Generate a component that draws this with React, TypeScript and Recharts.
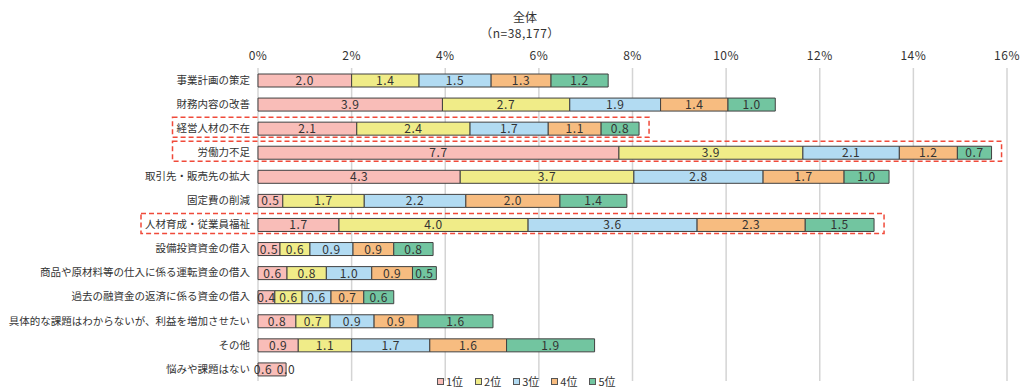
import { BarChart, Bar, XAxis, YAxis, CartesianGrid, LabelList } from 'recharts'

const categories = [
  '事業計画の策定',
  '財務内容の改善',
  '経営人材の不在',
  '労働力不足',
  '取引先・販売先の拡大',
  '固定費の削減',
  '人材育成・従業員福祉',
  '設備投資資金の借入',
  '商品や原材料等の仕入に係る運転資金の借入',
  '過去の融資金の返済に係る資金の借入',
  '具体的な課題はわからないが、利益を増加させたい',
  'その他',
  '悩みや課題はない',
]

// values; labels show them rounded to 0.1
const rank1 = [2.0, 3.94, 2.11, 7.71, 4.32, 0.53, 1.73, 0.47, 0.62, 0.36, 0.81, 0.86, 0.6]
const rank2 = [1.44, 2.72, 2.42, 3.93, 3.71, 1.74, 4.04, 0.64, 0.84, 0.58, 0.73, 1.14, 0.0]
const rank3 = [1.54, 1.94, 1.67, 2.06, 2.76, 2.17, 3.61, 0.92, 0.97, 0.62, 0.94, 1.67, null]
const rank4 = [1.28, 1.44, 1.13, 1.24, 1.73, 2.01, 2.31, 0.87, 0.87, 0.7, 0.94, 1.64, null]
const rank5 = [1.22, 1.01, 0.81, 0.73, 0.96, 1.43, 1.47, 0.84, 0.51, 0.64, 1.6, 1.88, null]

const seriesNames = ['1位', '2位', '3位', '4位', '5位']
const xTicks = [0, 2, 4, 6, 8, 10, 12, 14, 16]

// rows outlined with a red dashed box
const highlighted = ['経営人材の不在', '労働力不足', '人材育成・従業員福祉']

const COLORS = ['#f9bdb8', '#f0ec88', '#b2dbf2', '#f7bc80', '#72c5a0']
const FONT = '"Noto Sans CJK JP", "Noto Sans", sans-serif'

const W = 1026
const H = 389
const M = { top: 48, right: 19, bottom: 8, left: 0 }
const X_AXIS_H = 20
const Y_AXIS_W = 258

const series = [rank1, rank2, rank3, rank4, rank5]
const data = categories.map((name, i) => {
  const row: Record<string, string | number | null> = { name }
  series.forEach((s, k) => {
    row[`r${k + 1}`] = s[i]
  })
  return row
})

const valueText = (x: number, y: number, v: number, key?: string) => (
  <text
    key={key}
    x={x}
    y={y + 4.5}
    textAnchor='middle'
    fontSize={12}
    fill='#333'
    letterSpacing={0.6}
    fontFamily={FONT}
  >
    {v.toFixed(1)}
  </text>
)

const makeLabel = (k: number) => (props: any) => {
  const { x, y, width, height, value, index } = props
  if (value === null || value === undefined) return null
  const cx = Number(x) + Number(width) / 2
  const cy = Number(y) + Number(height) / 2
  // a zero-width next segment gets no bar, so its label is drawn here
  const next = series[k + 1]?.[index]
  if (next === 0) {
    const end = Number(x) + Number(width)
    return (
      <g>
        {valueText(cx - 9, cy, Number(value), 'a')}
        {valueText(end, cy, 0, 'b')}
      </g>
    )
  }
  return valueText(cx, cy, Number(value))
}

function Highlights() {
  const plotLeft = Y_AXIS_W + M.left
  const plotTop = M.top + X_AXIS_H
  const plotW = W - M.right - plotLeft
  const plotH = H - M.bottom - plotTop
  const band = plotH / categories.length
  const pxPerPct = plotW / 16
  const fontPx = 10.5
  const boxes = highlighted.map((name) => {
    const i = categories.indexOf(name)
    const total = series.reduce((acc, s) => acc + (s[i] ?? 0), 0)
    const labelLeft = plotLeft - 8 - name.length * fontPx
    return {
      name,
      x1: labelLeft - 4,
      x2: plotLeft + total * pxPerPct + 10,
      cy: plotTop + band * (i + 0.5) - 1,
    }
  })
  // first two boxes share their left edge
  boxes[0].x1 = boxes[1].x1 = Math.min(boxes[0].x1, boxes[1].x1)
  return (
    <svg
      width={W}
      height={H}
      style={{ position: 'absolute', left: 0, top: 0, pointerEvents: 'none' }}
    >
      {boxes.map((b) => (
        <rect
          key={b.name}
          x={b.x1}
          y={b.cy - 10}
          width={b.x2 - b.x1}
          height={20}
          fill='none'
          stroke='#f04a3a'
          strokeWidth={1.5}
          strokeDasharray='5 3'
        />
      ))}
    </svg>
  )
}

export default function App() {
  return (
    <div
      style={{
        position: 'absolute',
        left: 0,
        top: 0,
        width: W,
        height: H,
        background: '#fff',
        fontFamily: FONT,
        overflow: 'hidden',
      }}
    >
      <div
        style={{
          position: 'absolute',
          left: 0,
          width: W,
          top: 9,
          textAlign: 'center',
          fontSize: 12,
          lineHeight: '16px',
          color: '#333',
          paddingLeft: 24,
          boxSizing: 'border-box',
        }}
      >
        <div>全体</div>
        <div style={{ marginLeft: -10, letterSpacing: 0.5 }}>（n=38,177）</div>
      </div>
      <BarChart
        width={W}
        height={H}
        data={data}
        layout='vertical'
        margin={M}
        barSize={13}
        style={{ position: 'absolute', left: 0, top: 0 }}
      >
        <CartesianGrid horizontal={false} stroke='#d4d4d4' strokeWidth={1.5} />
        <XAxis
          type='number'
          orientation='top'
          domain={[0, 16]}
          ticks={xTicks}
          tickFormatter={(v) => `${v}%`}
          height={X_AXIS_H}
          axisLine={false}
          tickLine={false}
          tickSize={0}
          tickMargin={8}
          tick={{ fontSize: 12, fill: '#333', fontFamily: FONT, letterSpacing: 0.5 }}
          interval={0}
        />
        <YAxis
          type='category'
          dataKey='name'
          width={Y_AXIS_W}
          axisLine={false}
          tickLine={false}
          tickSize={0}
          tickMargin={8}
          interval={0}
          tick={{ fontSize: 10.5, fill: '#333', fontFamily: FONT }}
        />
        {seriesNames.map((s, k) => (
          <Bar
            key={s}
            dataKey={`r${k + 1}`}
            name={s}
            stackId='a'
            fill={COLORS[k]}
            stroke='#404040'
            strokeWidth={1}
            isAnimationActive={false}
          >
            <LabelList dataKey={`r${k + 1}`} content={makeLabel(k)} />
          </Bar>
        ))}
      </BarChart>
      <Highlights />
      <div
        style={{
          position: 'absolute',
          left: 437,
          top: 375,
          display: 'flex',
          gap: 12,
          fontSize: 11,
          color: '#333',
          lineHeight: '13px',
        }}
      >
        {seriesNames.map((s, k) => (
          <div key={s} style={{ display: 'flex', alignItems: 'center', gap: 2 }}>
            <span
              style={{
                display: 'inline-block',
                width: 5,
                height: 5,
                background: COLORS[k],
                border: '1px solid #555',
              }}
            />
            <span>{s}</span>
          </div>
        ))}
      </div>
    </div>
  )
}
